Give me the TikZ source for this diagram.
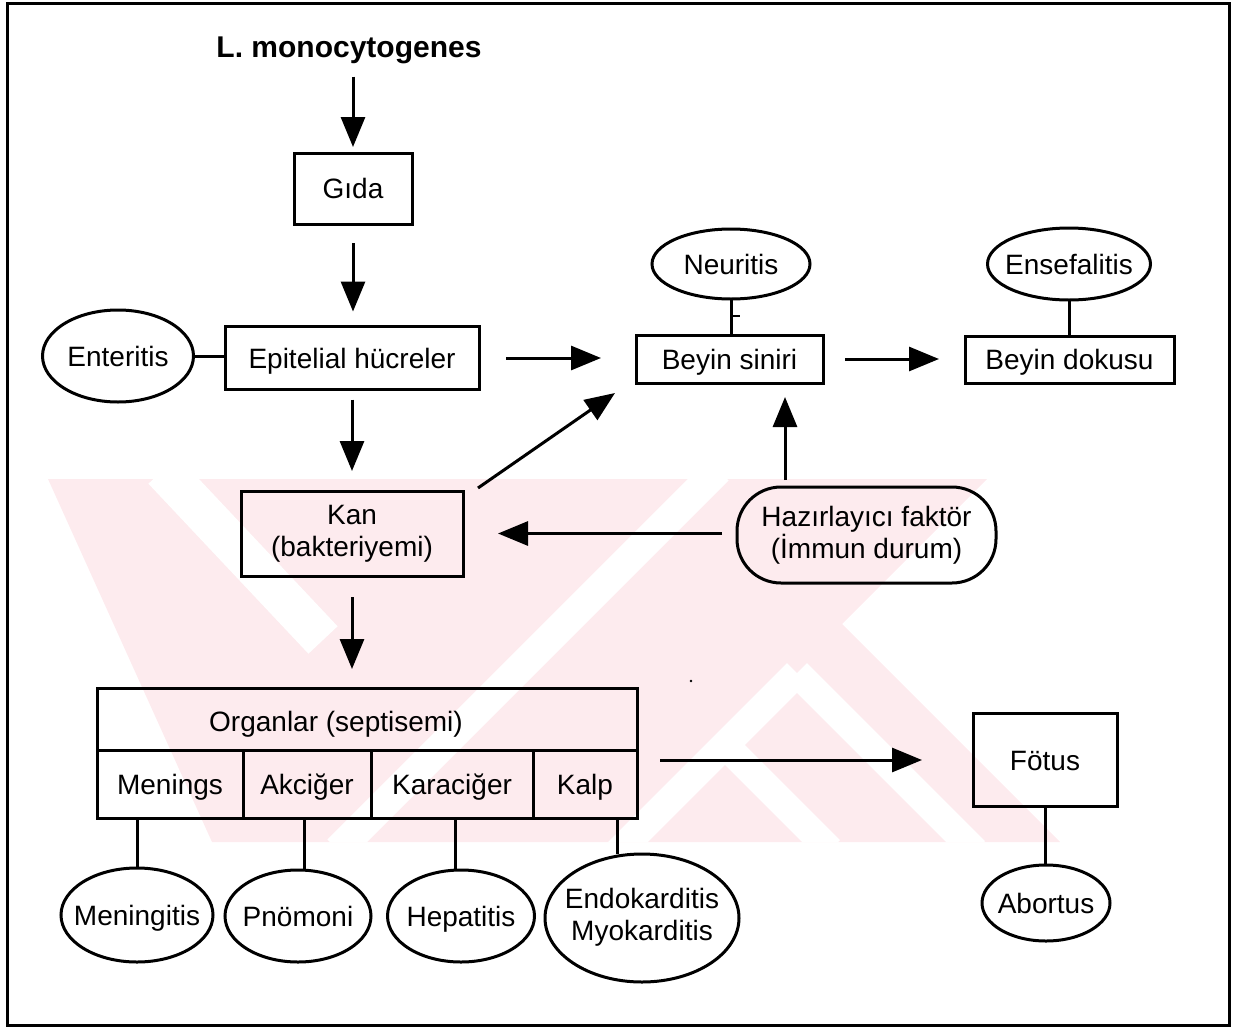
\documentclass[tikz,border=0pt]{standalone}
\usepackage{fontspec}
\setmainfont{Liberation Sans}
\usetikzlibrary{arrows.meta,shapes.geometric}
\definecolor{wm}{RGB}{253,235,238}
\begin{document}
\begin{tikzpicture}[x=1pt,y=-1pt,
  every node/.style={inner sep=0pt, outer sep=0pt, font=\fontsize{28}{32}\selectfont},
  box/.style={draw, line width=3pt, rectangle},
  oval/.style={draw, line width=3pt, ellipse},
  ln/.style={line width=3pt},
  arr/.style={line width=3pt, -{Triangle[length=30pt,width=24pt]}},
  one/.style={text height=20pt, text depth=0pt},
]
\useasboundingbox (0,0) rectangle (1237,1031);
% watermark
\begin{scope}
\clip (48,479) -- (987,479) -- (842,624) -- (1060,842) -- (212,842) -- cycle;
\fill[wm] (0,0) rectangle (1237,1031);
\draw[white, line width=40pt] (163,470) -- (323,640);
\draw[white, line width=30pt] (718,470) -- (338,850);
\draw[white, line width=28pt] (797,673) -- (975,851);
\draw[white, line width=28pt] (797,673) -- (617,853);
\draw[white, line width=28pt] (727,747) -- (830,850);
\end{scope}
% frame
\draw[line width=3pt] (7,3) rectangle (1229,1025);
% nodes
\node[font=\fontsize{30}{34}\selectfont\bfseries, one] (title) at (349,47) {L. monocytogenes};
\node[box, one, minimum width=118pt, minimum height=71pt] (gida) at (353,188.5) {Gıda};
\node[box, one, minimum width=254pt, minimum height=63pt] (epi) at (352,358) {Epitelial hücreler};
\node[oval, one, minimum width=151pt, minimum height=92pt] (ent) at (118,356) {\makebox[0pt]{Enteritis}};
\node[box, minimum width=222pt, minimum height=85pt, align=center] (kan) at (352,533.5) {Kan\\(bakteriyemi)};
\node[box, one, minimum width=187pt, minimum height=48pt] (bsin) at (729.5,359) {Beyin siniri};
\node[oval, one, minimum width=158pt, minimum height=70pt] (neur) at (731,264) {\makebox[0pt]{Neuritis}};
\node[oval, one, minimum width=163pt, minimum height=72pt] (ens) at (1069,264) {\makebox[0pt]{Ensefalitis}};
\node[box, one, minimum width=209pt, minimum height=47pt] (bdok) at (1069.5,359.5) {Beyin dokusu};
\node[box, rounded corners=44pt, minimum width=259pt, minimum height=96pt, align=center] (haz) at (866.5,535) {Hazırlayıcı faktör\\(İmmun durum)};
\node[box, minimum width=540pt, minimum height=62pt] (org) at (367,719) {};
\node[one] (orgt) at (336,721) {Organlar (septisemi)};
\node[box, one, minimum width=146pt, minimum height=68pt] (men) at (170,784) {Menings};
\node[box, one, minimum width=128pt, minimum height=68pt] (akc) at (307,784) {Akciğer};
\node[box, one, minimum width=162pt, minimum height=68pt] (kar) at (452,784) {Karaciğer};
\node[box, one, minimum width=104pt, minimum height=68pt] (kalp) at (585,784) {Kalp};
\node[oval, one, minimum width=152pt, minimum height=94pt] (mgt) at (137,915) {\makebox[0pt]{Meningitis}};
\node[oval, one, minimum width=146pt, minimum height=92pt] (pno) at (298,916) {\makebox[0pt]{Pnömoni}};
\node[oval, one, minimum width=147pt, minimum height=92pt] (hep) at (461,916) {\makebox[0pt]{Hepatitis}};
\node[oval, minimum width=194pt, minimum height=128pt] (endo) at (642,918) {\makebox[0pt]{\begin{tabular}{@{}c@{}}Endokarditis\\Myokarditis\end{tabular}}};
\node[box, one, minimum width=144pt, minimum height=93pt] (fot) at (1045,760) {Fötus};
\node[oval, one, minimum width=128pt, minimum height=76pt] (abo) at (1046,903) {\makebox[0pt]{Abortus}};
% plain connectors
\draw[ln] (ent.east) -- (ent.east -| epi.west);
\draw[ln] (neur.south) -- (neur.south |- bsin.north);
\draw[line width=1.5pt] ([yshift=-17pt]neur.south) -- ++(9,0);
\draw[ln] (ens.south) -- (ens.south |- bdok.north);
\draw[ln] ([xshift=-33pt]men.south) -- (mgt.north);
\draw[ln] ([xshift=-3pt]akc.south) -- ([xshift=6pt]pno.north);
\draw[ln] ([xshift=3pt]kar.south) -- ([xshift=-6pt]hep.north);
\draw[ln] ([xshift=32pt]kalp.south) -- ([xshift=-25pt]endo.north);
\draw[ln] (fot.south) -- (fot.south |- abo.north);
% arrows
\draw[arr, shorten <=19.5pt, shorten >=6pt] (title.south -| gida.north) -- (gida.north);
\draw[arr, shorten <=19pt, shorten >=15pt] (gida.south) -- (gida.south |- epi.north);
\draw[arr, shorten <=10pt, shorten >=20pt] (epi.south) -- (epi.south |- kan.north);
\draw[arr, shorten <=21pt, shorten >=19pt] (kan.south) -- (kan.south |- org.north);
\draw[arr, shorten <=27pt, shorten >=35pt] (epi.east) -- (epi.east -| bsin.west);
\draw[arr, shorten <=22pt, shorten >=26pt] (bsin.east) -- (bsin.east -| bdok.west);
\draw[arr, shorten <=7pt, shorten >=14pt] ([xshift=-81.5pt]haz.north) -- ([xshift=-81.5pt]haz.north |- bsin.south);
\draw[arr, shorten <=15pt, shorten >=35pt] (haz.west |- kan.east) -- (kan.east);
\draw[arr] ([xshift=15pt,yshift=3pt]kan.north east) -- ([xshift=-21pt,yshift=-10pt]bsin.south west);
\draw[arr, shorten <=23pt, shorten >=51pt] (org.east |- fot.west) -- (fot.west);
\fill (691,681) circle (1.3pt);
\end{tikzpicture}
\end{document}
